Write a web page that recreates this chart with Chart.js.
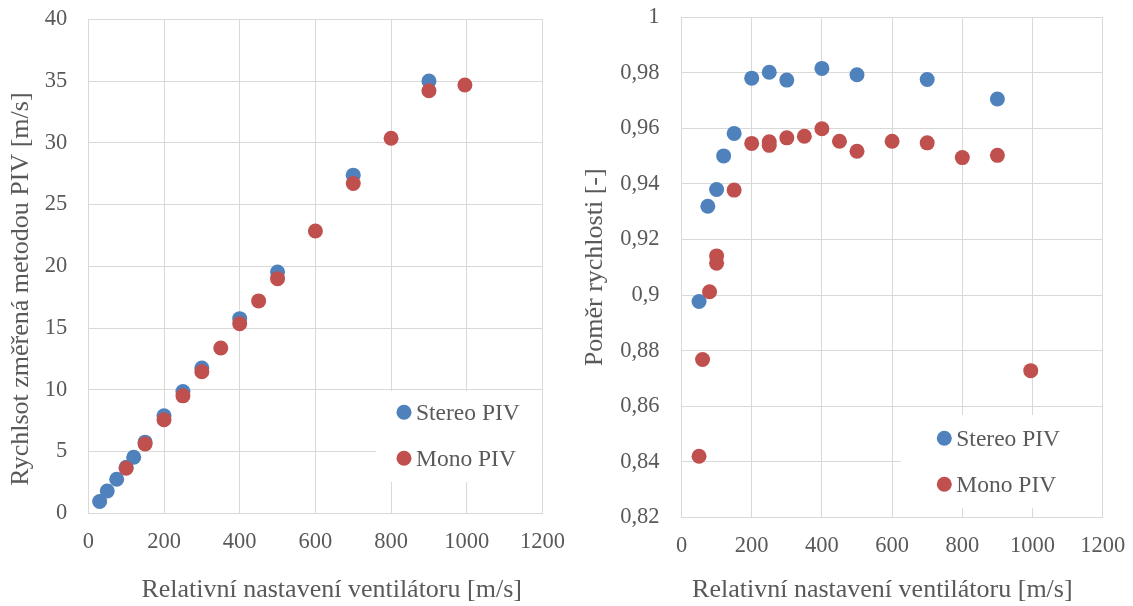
<!DOCTYPE html>
<html>
<head>
<meta charset="utf-8">
<script src="https://cdn.jsdelivr.net/npm/chart.js@4.4.0/dist/chart.umd.min.js"></script>
<style>
html, body { margin: 0; padding: 0; background: #fff; }
#wrap { position: relative; width: 1133px; height: 606px; overflow: hidden; }
canvas { position: absolute; top: 0; }
#speedChart { left: 0; }
#ratioChart { left: 566px; }
</style>
</head>
<body>
<div id="wrap">
  <canvas id="speedChart" width="566" height="606"></canvas>
  <canvas id="ratioChart" width="567" height="606"></canvas>
</div>
<script>
// left chart: measured speed vs fan setting
var speedStereoX = [30, 50, 75, 100, 120, 150, 200, 250, 300, 400, 500, 700, 900];
var speedStereoY = [0.95, 1.81, 2.76, 3.72, 4.54, 5.76, 7.89, 9.86, 11.76, 15.76, 19.54, 27.38, 35.0];
var speedMonoX = [100, 150, 200, 250, 300, 350, 400, 450, 500, 600, 700, 800, 900, 995];
var speedMonoY = [3.65, 5.62, 7.57, 9.51, 11.46, 13.38, 15.35, 17.2, 19.0, 22.86, 26.7, 30.37, 34.22, 34.68];

// right chart: speed ratio vs fan setting
var ratioStereoX = [50, 75, 100, 120, 150, 200, 250, 300, 400, 500, 700, 900];
var ratioStereoY = [0.8977, 0.932, 0.938, 0.9501, 0.9582, 0.9781, 0.9802, 0.9774, 0.9816, 0.9793, 0.9776, 0.9706];
var ratioMonoX = [50, 60, 80, 100, 100, 150, 200, 250, 250, 300, 350, 400, 450, 500, 600, 700, 800, 900, 995];
var ratioMonoY = [0.842, 0.8768, 0.9012, 0.9141, 0.9115, 0.9378, 0.9546, 0.9552, 0.9539, 0.9566, 0.9572, 0.9599, 0.9554, 0.9518, 0.9554, 0.9548, 0.9495, 0.9503, 0.8728];

var xTicks = [0, 200, 400, 600, 800, 1000, 1200];
var speedTicks = [0, 5, 10, 15, 20, 25, 30, 35, 40];
var ratioTicks = [0.82, 0.84, 0.86, 0.88, 0.9, 0.92, 0.94, 0.96, 0.98, 1];

var seriesNames = ['Stereo PIV', 'Mono PIV'];
var seriesColors = ['#4F81BD', '#C0504D'];

var fontFamily = "'Liberation Serif', 'Times New Roman', serif";
var textColor = '#595959';
var gridColor = '#d9d9d9';

function toPoints(xs, ys) {
  return xs.map(function(x, i) { return { x: x, y: ys[i] }; });
}

function fixedTicks(list) {
  return function(scale) {
    scale.ticks = list.map(function(v) { return { value: v }; });
  };
}

// plain number, decimal comma, no thousands separator
function czNumber(v) {
  return String(v).replace('.', ',');
}

// legend drawn inside the plot, as Excel does it
var insideLegend = {
  id: 'insideLegend',
  beforeDatasetsDraw: function(chart, args, opts) {
    var ctx = chart.ctx;
    ctx.save();
    ctx.fillStyle = '#fff';
    ctx.fillRect(opts.x, opts.y, opts.w, opts.h);
    ctx.font = '23.5px ' + fontFamily;
    ctx.textAlign = 'left';
    ctx.textBaseline = 'alphabetic';
    chart.data.datasets.forEach(function(ds, i) {
      var cy = opts.itemY + i * opts.gap;
      ctx.fillStyle = ds.backgroundColor;
      ctx.beginPath();
      ctx.arc(opts.markerX, cy, 7.5, 0, Math.PI * 2);
      ctx.fill();
      ctx.fillStyle = textColor;
      ctx.fillText(ds.label, opts.markerX + 12, cy + 8);
    });
    ctx.restore();
  }
};

function makeChart(id, stereo, mono, cfg) {
  return new Chart(document.getElementById(id), {
    type: 'scatter',
    data: {
      datasets: [
        { label: seriesNames[0], data: stereo, backgroundColor: seriesColors[0], order: 2 },
        { label: seriesNames[1], data: mono, backgroundColor: seriesColors[1], order: 1 }
      ]
    },
    options: {
      responsive: false,
      animation: false,
      events: [],
      layout: { padding: { left: 0, right: cfg.padRight, top: cfg.padTop, bottom: 0 } },
      elements: { point: { radius: 7.5, hoverRadius: 7.5, borderWidth: 0 } },
      plugins: {
        legend: { display: false },
        tooltip: { enabled: false },
        insideLegend: cfg.legend
      },
      scales: {
        x: {
          type: 'linear',
          min: 0,
          max: 1200,
          afterBuildTicks: fixedTicks(xTicks),
          afterFit: function(s) {
            s.height = cfg.xHeight;
            s.paddingLeft = 0;
            s.paddingRight = 0;
          },
          grid: { color: gridColor, drawTicks: false },
          border: { color: gridColor },
          ticks: {
            padding: 15,
            color: textColor,
            font: { family: fontFamily, size: 22.5 },
            callback: czNumber
          },
          title: {
            display: true,
            text: cfg.xTitle,
            color: textColor,
            font: { family: fontFamily, size: 26 },
            padding: { top: 0, bottom: 0 }
          }
        },
        y: {
          type: 'linear',
          min: cfg.yTicks[0],
          max: cfg.yTicks[cfg.yTicks.length - 1],
          afterBuildTicks: fixedTicks(cfg.yTicks),
          afterFit: function(s) {
            s.width = cfg.yWidth;
            s.paddingTop = 0;
            s.paddingBottom = 0;
          },
          grid: { color: gridColor, drawTicks: false },
          border: { color: gridColor },
          ticks: {
            padding: cfg.yTickPad,
            color: textColor,
            font: { family: fontFamily, size: 22.5 },
            callback: czNumber
          },
          title: {
            display: true,
            text: cfg.yTitle,
            color: textColor,
            font: { family: fontFamily, size: 26 },
            padding: { top: cfg.yTitlePad, bottom: 0 }
          }
        }
      }
    },
    plugins: [insideLegend]
  });
}

makeChart('speedChart', toPoints(speedStereoX, speedStereoY), toPoints(speedMonoX, speedMonoY), {
  padRight: 23.5,
  padTop: 19.3,
  xHeight: 92.7,
  yWidth: 88.3,
  yTickPad: 21,
  yTitlePad: 6,
  yTicks: speedTicks,
  xTitle: '     Relativní nastavení ventilátoru [m/s]',
  yTitle: 'Rychlsot změřená metodou PIV [m/s]       ',
  legend: { x: 375.7, y: 391, w: 165.8, h: 91, markerX: 404, itemY: 412.3, gap: 46 }
});

makeChart('ratioChart', toPoints(ratioStereoX, ratioStereoY), toPoints(ratioMonoX, ratioMonoY), {
  padRight: 30.3,
  padTop: 17.3,
  xHeight: 88.7,
  yWidth: 115.5,
  yTickPad: 22,
  yTitlePad: 13.4,
  yTicks: ratioTicks,
  xTitle: 'Relativní nastavení ventilátoru [m/s]   ',
  yTitle: 'Poměr rychlosti [-]',
  legend: { x: 334.7, y: 415, w: 201, h: 93, markerX: 378.3, itemY: 438.3, gap: 46 }
});
</script>
</body>
</html>
